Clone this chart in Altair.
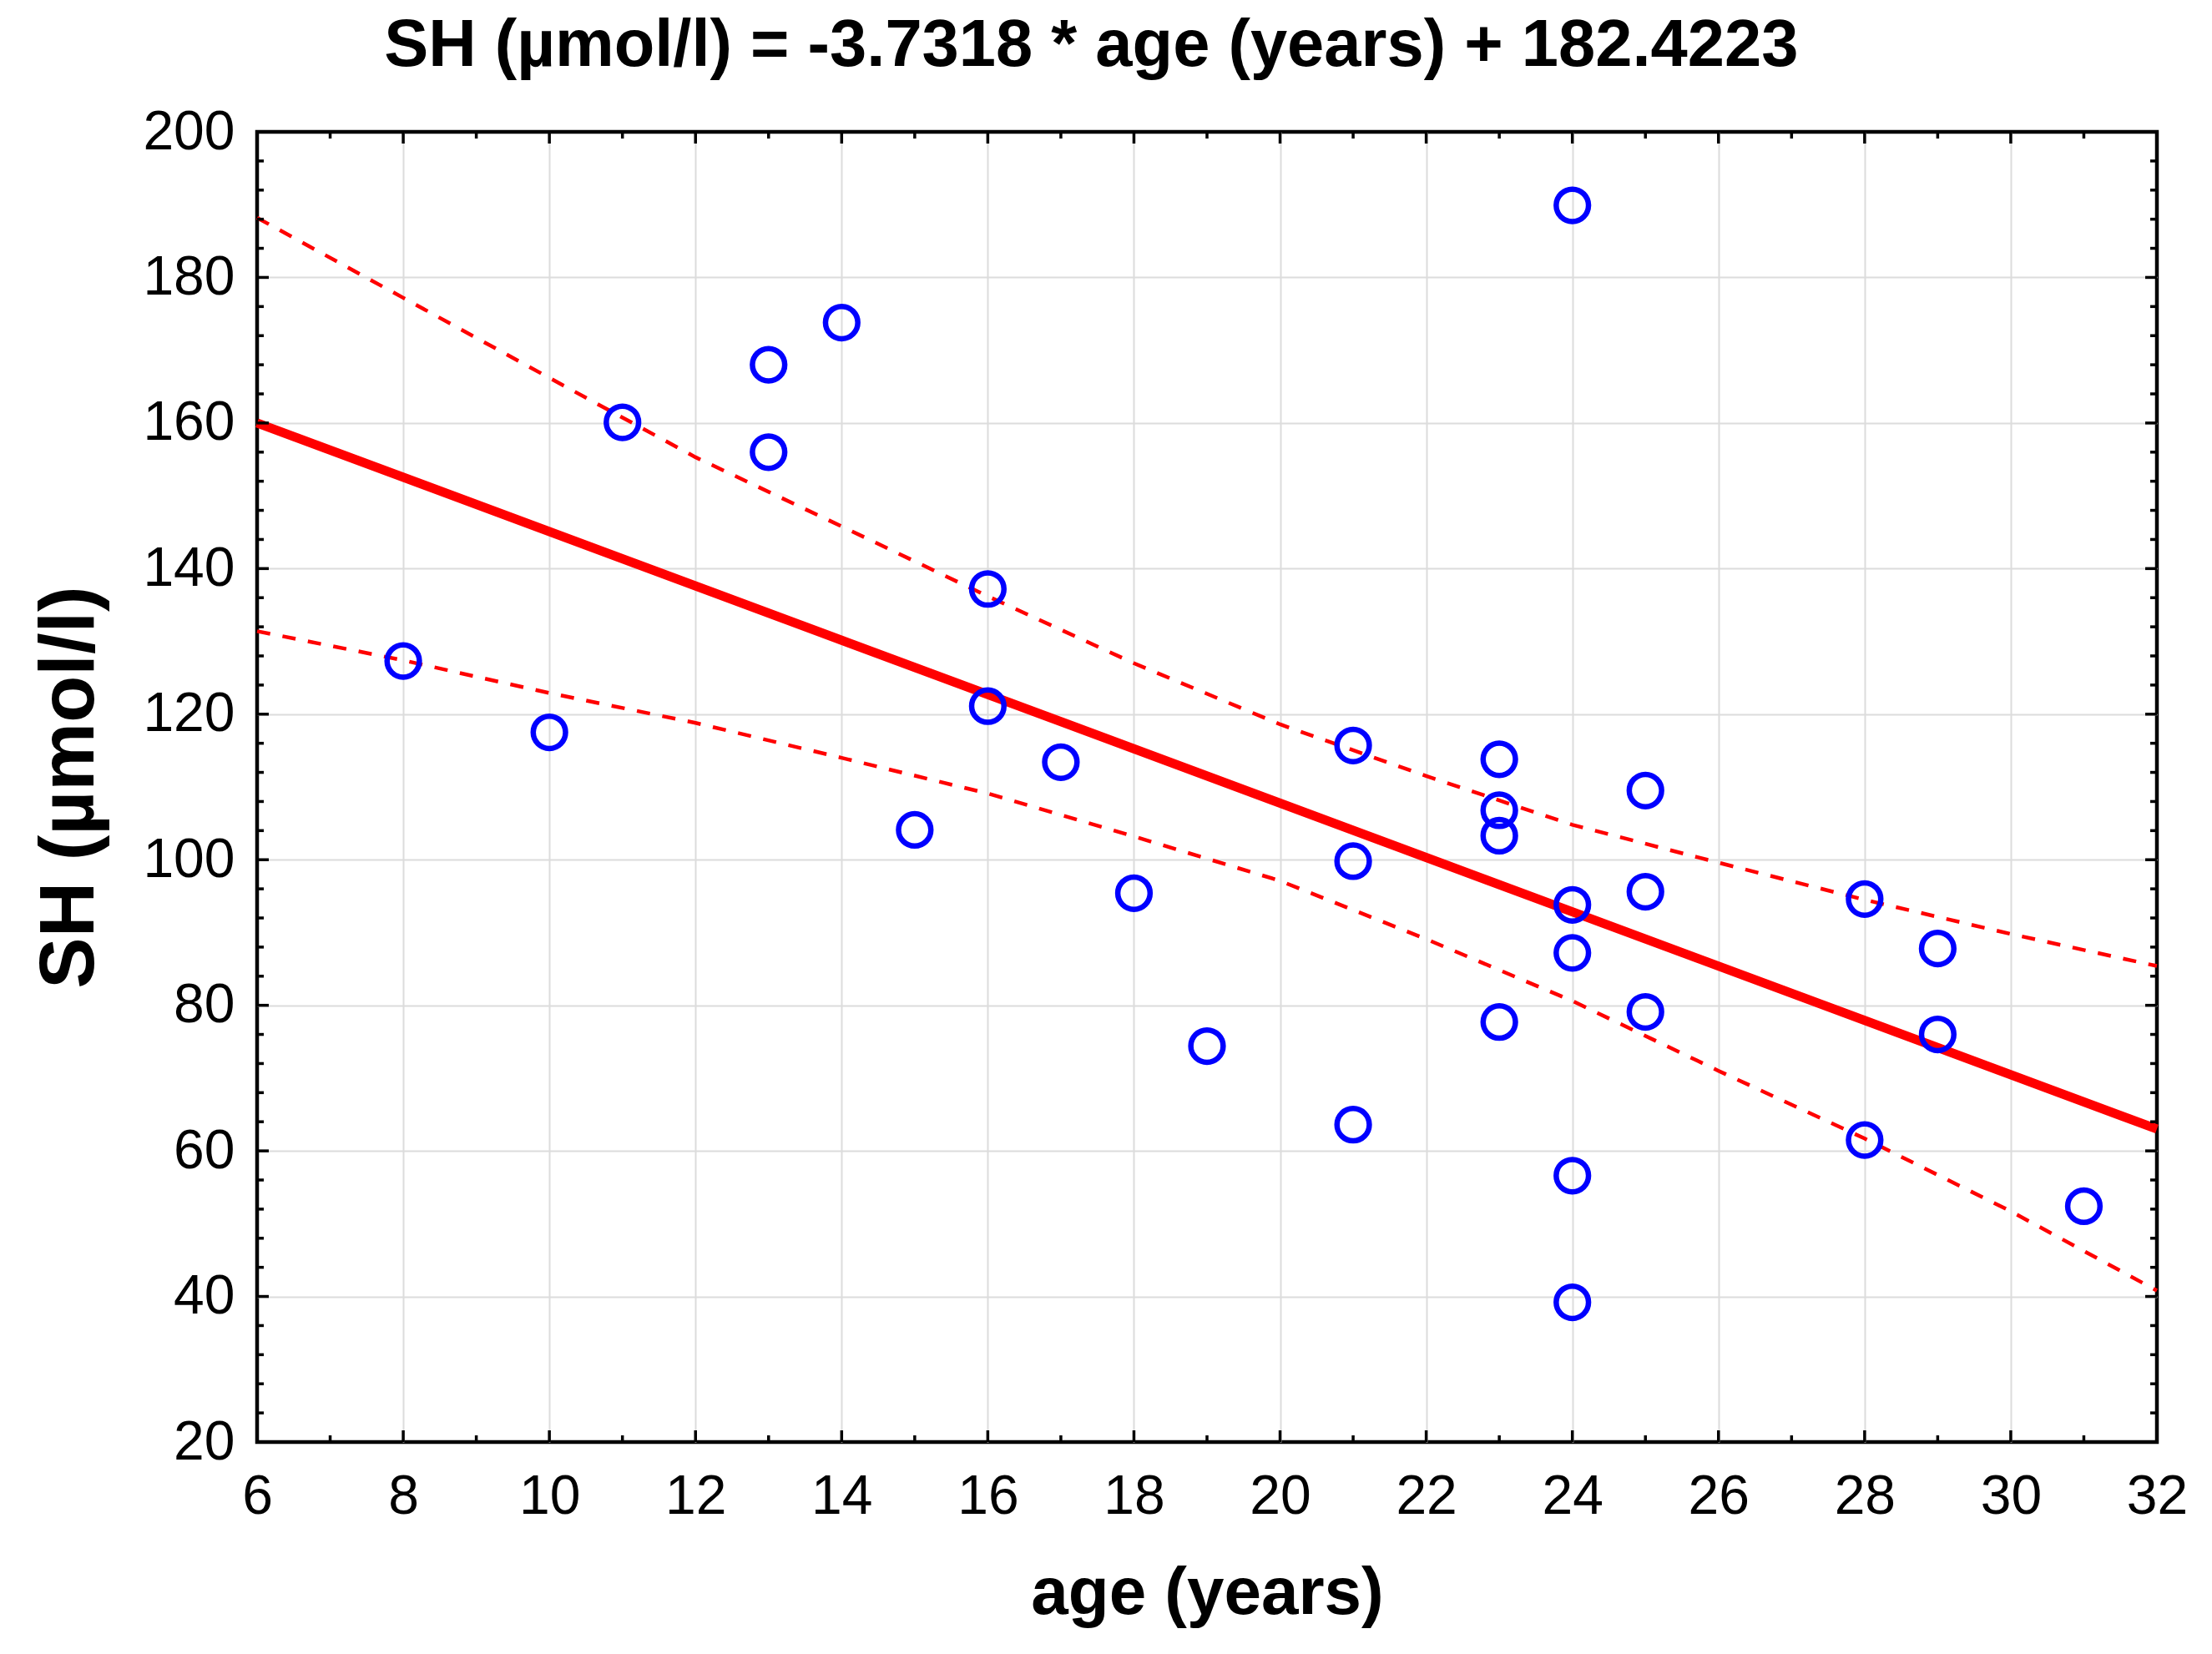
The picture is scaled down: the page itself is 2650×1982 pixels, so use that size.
import altair as alt
import pandas as pd

# ---- data ----
ages = [8, 10, 11, 13, 13, 14, 15, 16, 16, 17, 18, 19, 21, 21, 21, 23, 23, 23, 23,
        24, 24, 24, 24, 24, 25, 25, 25, 28, 28, 29, 29, 31]
sh = [127.3, 117.5, 160.1, 168.0, 156.0, 173.8, 104.1, 137.2, 121.1, 113.4, 95.4, 74.4,
      115.7, 99.8, 63.6, 113.8, 106.8, 103.3, 77.7, 189.9, 93.8, 87.2, 56.6, 39.2,
      109.5, 95.6, 79.1, 94.6, 61.5, 87.8, 76.0, 52.4]

fit_age = [6, 32]
fit_sh = [160.0, 63.0]

band_age = [6, 8, 10, 12, 14, 16, 18, 20, 22, 24, 26, 28, 30, 32]
upper_sh = [188.2, 177.2, 166.2, 155.3, 145.8, 136.2, 127.0, 118.6, 111.5, 104.8, 99.6, 94.5, 89.8, 85.4]
lower_sh = [131.4, 127.4, 122.9, 118.8, 114.0, 109.1, 103.2, 97.1, 89.1, 80.6, 71.0, 61.7, 51.7, 40.8]

x_labels = list(range(6, 33, 2))
y_labels = list(range(20, 201, 20))
x_minor = list(range(7, 32, 2))
y_minor = [v for v in range(24, 200, 4) if v % 20 != 0]

TITLE = "SH (\u00b5mol/l) = -3.7318 * age (years) + 182.4223"
FONT = "Liberation Sans"
GRID = "#dcdcdc"

pts = pd.DataFrame({"age": ages, "sh": sh})
fit = pd.DataFrame({"age": fit_age, "sh": fit_sh})
bands = pd.DataFrame({
    "age": band_age + band_age,
    "sh": upper_sh + lower_sh,
    "band": ["upper"] * len(band_age) + ["lower"] * len(band_age),
})

xs = alt.Scale(domain=[6, 32], nice=False, zero=False)
ys = alt.Scale(domain=[20, 200], nice=False, zero=False)

x_axis = alt.Axis(values=x_labels, title="age (years)", grid=True, ticks=False, domain=False,
                  labelFontSize=66, labelFont=FONT, labelColor="black", labelPadding=33,
                  titleFontSize=80, titleFont=FONT, titleFontWeight="bold", titleColor="black",
                  titlePadding=44, gridWidth=2, labelFlush=False,
                  gridColor=alt.condition("datum.value <= 6 || datum.value >= 32",
                                          alt.value("transparent"), alt.value(GRID)))
y_axis = alt.Axis(values=y_labels, title="SH (\u00b5mol/l)", grid=True, ticks=False, domain=False,
                  labelFontSize=66, labelFont=FONT, labelColor="black", labelPadding=27,
                  titleFontSize=92, titleFont=FONT, titleFontWeight="bold", titleColor="black",
                  titlePadding=40, gridWidth=2, labelFlush=False,
                  gridColor=alt.condition("datum.value <= 20 || datum.value >= 200",
                                          alt.value("transparent"), alt.value(GRID)))

X = alt.X("age:Q", scale=xs, axis=x_axis)
Y = alt.Y("sh:Q", scale=ys, axis=y_axis)

points = alt.Chart(pts).mark_point(shape="circle", filled=False, size=1500, strokeWidth=6.5,
                                   color="#0000ff", opacity=1).encode(x=X, y=Y)

band_lines = alt.Chart(bands).mark_line(color="#ff0000", strokeWidth=4.5, strokeDash=[16, 15]).encode(
    x=X, y=Y, detail="band:N")

fit_line = alt.Chart(fit).mark_line(color="#ff0000", strokeWidth=11).encode(x=X, y=Y)

def xticks(vals, length, edge):
    df = pd.DataFrame({"age": vals, "sh": [edge] * len(vals)})
    return alt.Chart(df).mark_tick(
        orient="vertical", size=2 * length, thickness=3.5, color="black", clip=True, opacity=1
    ).encode(x=X, y=Y)

def yticks(vals, length, edge):
    df = pd.DataFrame({"sh": vals, "age": [edge] * len(vals)})
    return alt.Chart(df).mark_tick(
        orient="horizontal", size=2 * length, thickness=3.5, color="black", clip=True, opacity=1
    ).encode(x=X, y=Y)

tick_layers = [
    xticks(x_labels, 14, 20), xticks(x_minor, 8, 20),
    xticks(x_labels, 14, 200), xticks(x_minor, 8, 200),
    yticks(y_labels, 14, 6), yticks(y_minor, 8, 6),
    yticks(y_labels, 14, 32), yticks(y_minor, 8, 32),
]

chart = alt.layer(band_lines, fit_line, *tick_layers, points).properties(
    width=2276,
    height=1570,
    background="white",
    padding={"left": 29, "top": 6, "right": 12, "bottom": 10},
    title=alt.TitleParams(TITLE, fontSize=79.5, font=FONT, fontWeight="bold", color="black",
                          anchor="middle", frame="bounds", offset=30, dx=-22),
).configure_view(stroke="black", strokeWidth=4.5)

chart.save("out.html", embed_options={"renderer": "svg", "actions": False})
